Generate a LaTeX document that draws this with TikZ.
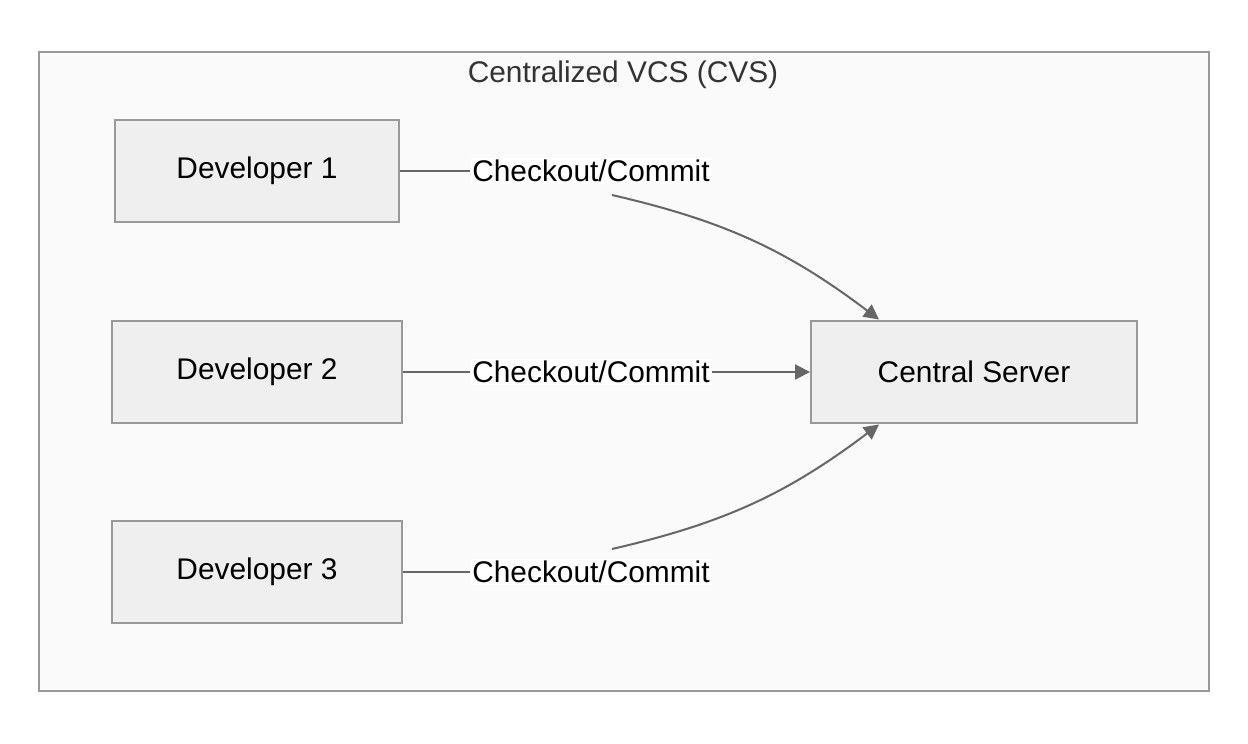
\documentclass[tikz,border=0pt]{standalone}
\usepackage{fontspec}
\setmainfont{Liberation Sans}
\usetikzlibrary{arrows.meta,positioning}
\definecolor{boxfill}{HTML}{EFEFEF}
\definecolor{boxline}{HTML}{999999}
\definecolor{edgecol}{HTML}{666666}
\begin{document}
\begin{tikzpicture}[x=0.02cm,y=-0.02cm,line width=0.4mm,
  box/.style={draw=boxline,fill=boxfill,minimum height=2.06cm,font=\fontsize{17}{20}\selectfont},
  lbl/.style={fill=white,inner sep=1pt,font=\fontsize{17}{20}\selectfont},
  link/.style={draw=edgecol,-{Triangle[length=3mm,width=3mm,fill=edgecol]}}]

  \useasboundingbox (0,0) rectangle (1248,744);
  \draw[boxline,fill=white!98!black] (39,52) rectangle (1209,691);
  \node (title) at (623,75) [text=black!80,font=\fontsize{17}{20}\selectfont] {Centralized VCS (CVS)};

  \node[box,minimum width=5.7cm] (1) at (257,171) {Developer 1};
  \node[box,minimum width=5.82cm] (2) at (257,372) {Developer 2};
  \node[box,minimum width=5.82cm] (3) at (257,572) {Developer 3};
  \node[box,minimum width=6.52cm] (s) at (974,372) {Central Server};

  \node[lbl] (l1) at (591,171) {Checkout/Commit};
  \node[lbl] (l2) at (591,372) {Checkout/Commit};
  \node[lbl] (l3) at (591,572) {Checkout/Commit};
  \coordinate (c1) at (612,195);
  \coordinate (c3) at (612,549);

  \path[draw=edgecol]
    (1) edge (l1)
    (2) edge (l2)
    (3) edge (l3);
  \draw[link] (c1) to[bend left=12] ([xshift=-1.9cm]s.north);
  \draw[link] (l2) -- (s);
  \draw[link] (c3) to[bend right=12] ([xshift=-1.9cm]s.south);

\end{tikzpicture}
\end{document}
